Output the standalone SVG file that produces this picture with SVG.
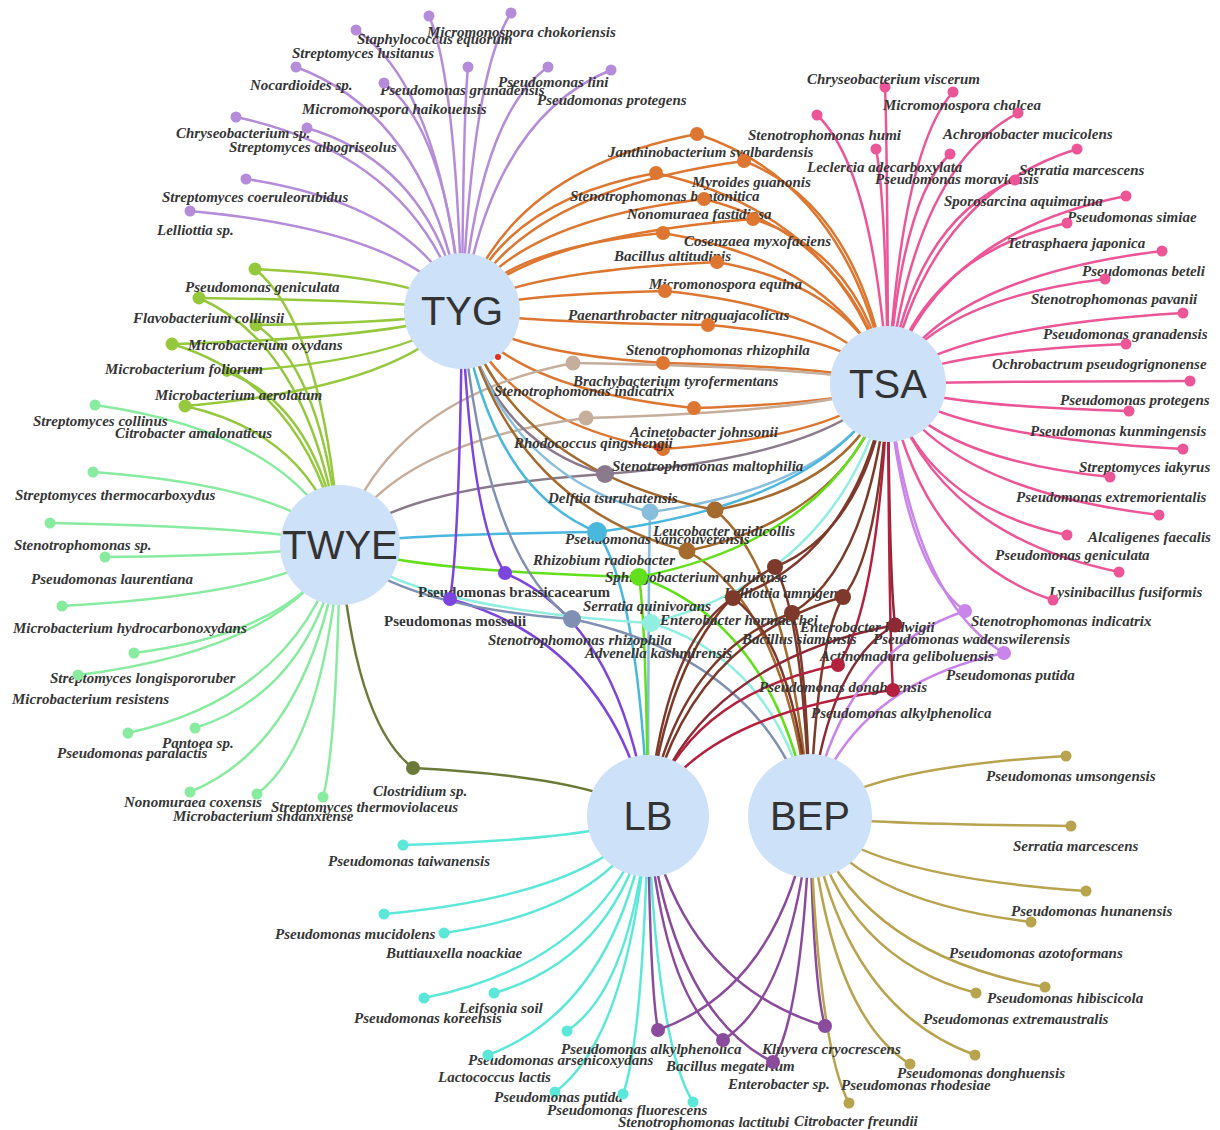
<svg xmlns="http://www.w3.org/2000/svg" width="1220" height="1130" viewBox="0 0 1220 1130">
<style>
.pu{stroke:#b48cd9;fill:#b48cd9}.pk{stroke:#ec5697;fill:#ec5697}.or{stroke:#dc7631;fill:#dc7631}
.yg{stroke:#96c83e;fill:#96c83e}.mi{stroke:#88eba0;fill:#88eba0}.cy{stroke:#5ce8d8;fill:#5ce8d8}
.dp{stroke:#8b4b9d;fill:#8b4b9d}.ol{stroke:#b8a34e;fill:#b8a34e}.cl{stroke:#6b7a38;fill:#6b7a38}
.tn{stroke:#c6ae9c;fill:#c6ae9c}.gp{stroke:#8a7a8c;fill:#8a7a8c}.lb{stroke:#86bedb;fill:#86bedb}
.br{stroke:#a56a2e;fill:#a56a2e}.bl{stroke:#4ab7dd;fill:#4ab7dd}.vp{stroke:#7c45de;fill:#7c45de}
.gr{stroke:#62e01c;fill:#62e01c}.gb{stroke:#8090b2;fill:#8090b2}.pc{stroke:#93eee2;fill:#93eee2}
.db{stroke:#7d3a2b;fill:#7d3a2b}.dr{stroke:#8e2a36;fill:#8e2a36}.cr{stroke:#b3213f;fill:#b3213f}
.vi{stroke:#c985ea;fill:#c985ea}.rd{stroke:#e0301a;fill:#e0301a}
path.e{fill:none;stroke-width:2.5}
circle.d{stroke:none}
.t{font-family:"Liberation Serif","Times New Roman",serif;font-weight:bold;font-style:italic;font-size:15px;fill:#363636}
.u{font-style:normal}
.h{fill:#cde1f8}
.hl{font-family:"Liberation Sans",Arial,sans-serif;font-size:40px;fill:#333;text-anchor:middle}
</style>
<rect width="1220" height="1130" fill="#fff"/>
<g id="edges">
<!-- TYG only -->
<path class="e pu" d="M462 311Q440.8 86.2 356 30"/>
<path class="e pu" d="M462 311Q455.4 75 429 16"/>
<path class="e pu" d="M462 311Q471.8 72.6 511 13"/>
<path class="e pu" d="M462 311Q463.2 115.8 468 67"/>
<path class="e pu" d="M462 311Q428.8 115.8 296 67"/>
<path class="e pu" d="M462 311Q446.4 128.6 384 83"/>
<path class="e pu" d="M462 311Q479.2 115.8 548 67"/>
<path class="e pu" d="M462 311Q491.8 118.2 611 70"/>
<path class="e pu" d="M462 311Q416.8 155.8 236 117"/>
<path class="e pu" d="M462 311Q431 164.6 307 128"/>
<path class="e pu" d="M462 311Q418.8 205.4 246 179"/>
<path class="e pu" d="M462 311Q407.6 231 190 211"/>
<!-- TYG + TSA -->
<path class="e or" d="M462 311Q509 169.4 697 134"/><path class="e or" d="M888 384Q849.8 184 697 134"/>
<path class="e or" d="M462 311Q518.4 191 744 161"/><path class="e or" d="M888 384Q859.2 205.6 744 161"/>
<path class="e or" d="M462 311Q500.8 200.6 656 173"/><path class="e or" d="M888 384Q841.6 215.2 656 173"/>
<path class="e or" d="M462 311Q510.4 221.4 704 199"/><path class="e or" d="M888 384Q851.2 236 704 199"/>
<path class="e or" d="M462 311Q520.2 237.4 753 219"/><path class="e or" d="M888 384Q861 252 753 219"/>
<path class="e or" d="M462 311Q502.2 248.6 663 233"/><path class="e or" d="M888 384Q843 263.2 663 233"/>
<path class="e or" d="M462 311Q513 271.8 717 262"/><path class="e or" d="M888 384Q853.8 286.4 717 262"/>
<path class="e or" d="M462 311Q502.6 295 665 291"/><path class="e or" d="M888 384Q843.4 309.6 665 291"/>
<path class="e or" d="M462 311Q511.2 322.2 708 325"/><path class="e or" d="M888 384Q852 336.8 708 325"/>
<path class="e or" d="M462 311Q502.2 352.6 663 363"/><path class="e or" d="M888 384Q843 367.2 663 363"/>
<path class="e or" d="M462 311Q508.4 388.6 694 408"/><path class="e or" d="M888 384Q849.2 403.2 694 408"/>
<path class="e or" d="M462 311Q502.2 421.4 663 449"/><path class="e or" d="M888 384Q843 436 663 449"/>
<!-- TSA only -->
<path class="e pk" d="M888 384Q887.4 146.4 885 87"/>
<path class="e pk" d="M888 384Q901 150.4 953 92"/>
<path class="e pk" d="M888 384Q873.8 168.8 817 115"/>
<path class="e pk" d="M888 384Q914 167.2 1018 113"/>
<path class="e pk" d="M888 384Q885.6 196 876 149"/>
<path class="e pk" d="M888 384Q900.4 200 950 154"/>
<path class="e pk" d="M888 384Q925.8 196 1077 149"/>
<path class="e pk" d="M888 384Q913.4 220.8 1015 180"/>
<path class="e pk" d="M888 384Q935.6 233.6 1126 196"/>
<path class="e pk" d="M888 384Q923.8 255.2 1067 223"/>
<path class="e pk" d="M888 384Q942.8 277.6 1162 251"/>
<path class="e pk" d="M888 384Q931.4 300 1105 279"/>
<path class="e pk" d="M888 384Q947 327.2 1183 313"/>
<path class="e pk" d="M888 384Q935.6 352 1126 344"/>
<path class="e pk" d="M888 384Q948.4 381.6 1190 381"/>
<path class="e pk" d="M888 384Q936.2 405.6 1129 411"/>
<path class="e pk" d="M888 384Q947 436 1183 449"/>
<path class="e pk" d="M888 384Q932.4 458.4 1110 477"/>
<path class="e pk" d="M888 384Q942.2 488.8 1159 515"/>
<path class="e pk" d="M888 384Q923.8 504.8 1067 535"/>
<path class="e pk" d="M888 384Q934.2 534.4 1119 572"/>
<path class="e pk" d="M888 384Q921 556.8 1053 600"/>
<!-- TYG + TWYE -->
<path class="e yg" d="M462 311Q420.6 277.4 255 269"/><path class="e yg" d="M340 545Q323 324.2 255 269"/>
<path class="e yg" d="M462 311Q409.4 300.6 199 298"/><path class="e yg" d="M340 545Q311.8 347.4 199 298"/>
<path class="e yg" d="M462 311Q420.8 322.2 256 325"/><path class="e yg" d="M340 545Q323.2 369 256 325"/>
<path class="e yg" d="M462 311Q404 337.4 172 344"/><path class="e yg" d="M340 545Q306.4 384.2 172 344"/>
<path class="e yg" d="M462 311Q415 359.8 227 372"/><path class="e yg" d="M340 545Q317.4 406.6 227 372"/>
<path class="e yg" d="M462 311Q406.6 387 185 406"/><path class="e yg" d="M340 545Q309 433.8 185 406"/>
<!-- TWYE only -->
<path class="e mi" d="M340 545Q291 433 95 405"/>
<path class="e mi" d="M340 545Q290.6 486.6 93 472"/>
<path class="e mi" d="M340 545Q282 527.4 50 523"/>
<path class="e mi" d="M340 545Q293 554.6 105 557"/>
<path class="e mi" d="M340 545Q284.4 593.8 62 606"/>
<path class="e mi" d="M340 545Q298.8 631.4 134 653"/>
<path class="e mi" d="M340 545Q287.6 649 78 675"/>
<path class="e mi" d="M340 545Q297.6 695.4 128 733"/>
<path class="e mi" d="M340 545Q311 691.4 195 728"/>
<path class="e mi" d="M340 545Q310 742.6 190 792"/>
<path class="e mi" d="M340 545Q323.4 744.2 257 794"/>
<path class="e mi" d="M340 545Q336.6 746.6 323 797"/>
<!-- TWYE + LB -->
<path class="e cl" d="M340 545Q354.6 723.4 413 768"/><path class="e cl" d="M648 816Q601 777.6 413 768"/>
<!-- LB only -->
<path class="e cy" d="M648 816Q599 839.2 403 845"/>
<path class="e cy" d="M648 816Q595.2 894.4 384 914"/>
<path class="e cy" d="M648 816Q607.2 909.6 444 933"/>
<path class="e cy" d="M648 816Q603.2 961.6 424 998"/>
<path class="e cy" d="M648 816Q617.2 957.6 494 993"/>
<path class="e cy" d="M648 816Q631.8 988 567 1031"/>
<path class="e cy" d="M648 816Q616 1007.2 488 1055"/>
<path class="e cy" d="M648 816Q629.4 1036.8 555 1092"/>
<path class="e cy" d="M648 816Q643 1038.4 623 1094"/>
<path class="e cy" d="M648 816Q657 1044.8 693 1102"/>
<!-- LB + BEP -->
<path class="e dp" d="M648 816Q650 987.2 658 1030"/><path class="e dp" d="M810 816Q779.6 987.2 658 1030"/>
<path class="e dp" d="M648 816Q663 995.2 723 1040"/><path class="e dp" d="M810 816Q792.6 995.2 723 1040"/>
<path class="e dp" d="M648 816Q673 1012.8 773 1062"/><path class="e dp" d="M810 816Q802.6 1012.8 773 1062"/>
<path class="e dp" d="M648 816Q683.4 984 825 1026"/><path class="e dp" d="M810 816Q813 984 825 1026"/>
<!-- BEP only -->
<path class="e ol" d="M810 816Q861.2 768 1066 756"/>
<path class="e ol" d="M810 816Q862.2 824 1071 826"/>
<path class="e ol" d="M810 816Q865.2 876 1086 891"/>
<path class="e ol" d="M810 816Q854.2 900.8 1031 922"/>
<path class="e ol" d="M810 816Q857 952.8 1045 987"/>
<path class="e ol" d="M810 816Q843.2 957.6 976 993"/>
<path class="e ol" d="M810 816Q843 1007.2 975 1055"/>
<path class="e ol" d="M810 816Q830 1014.4 910 1064"/>
<path class="e ol" d="M810 816Q817.8 1045.6 849 1103"/>
<!-- multi-hub -->
<path class="e tn" d="M340 545Q386.6 399.4 573 363"/><path class="e tn" d="M888 384Q825 367.2 573 363"/>
<path class="e tn" d="M340 545Q389.2 443.4 586 418"/><path class="e tn" d="M888 384Q827.6 411.2 586 418"/>
<path class="e gp" d="M340 545Q393 488.2 605 474"/><path class="e gp" d="M888 384Q831.4 456 605 474"/><path class="e gp" d="M462 311Q490.6 441.4 605 474"/>
<path class="e lb" d="M462 311Q499.6 471.8 650 512"/><path class="e lb" d="M888 384Q840.4 486.4 650 512"/><path class="e lb" d="M648 816Q648.4 572.8 650 512"/>
<path class="e br" d="M462 311Q512.6 470.2 715 510"/><path class="e br" d="M888 384Q853.4 484.8 715 510"/><path class="e br" d="M810 816Q791 571.2 715 510"/>
<path class="e bl" d="M462 311Q489 487.8 597 532"/><path class="e bl" d="M340 545Q391.4 534.6 597 532"/><path class="e bl" d="M888 384Q829.8 502.4 597 532"/><path class="e bl" d="M648 816Q637.8 588.8 597 532"/>
<path class="e br" d="M462 311Q507 503 687 551"/><path class="e br" d="M888 384Q847.8 517.6 687 551"/><path class="e br" d="M810 816Q785.4 604 687 551"/>
<path class="e vp" d="M462 311Q470.6 520.6 505 573"/><path class="e vp" d="M648 816Q619.4 621.6 505 573"/>
<path class="e gr" d="M340 545Q399.8 570.6 639 577"/><path class="e gr" d="M888 384Q838.2 538.4 639 577"/><path class="e gr" d="M648 816Q646.2 624.8 639 577"/><path class="e gr" d="M810 816Q775.8 624.8 639 577"/>
<path class="e vp" d="M462 311Q459.6 541.4 450 599"/><path class="e vp" d="M648 816Q608.4 642.4 450 599"/>
<path class="e gb" d="M462 311Q484 557.4 572 619"/><path class="e gb" d="M340 545Q386.4 604.2 572 619"/><path class="e gb" d="M810 816Q762.4 658.4 572 619"/>
<path class="e pc" d="M340 545Q402.2 607.4 651 623"/><path class="e pc" d="M888 384Q840.6 575.2 651 623"/><path class="e pc" d="M810 816Q778.2 661.6 651 623"/>
<path class="e db" d="M888 384Q865.4 530.4 775 567"/><path class="e db" d="M648 816Q673.4 616.8 775 567"/><path class="e db" d="M810 816Q803 616.8 775 567"/>
<path class="e db" d="M888 384Q857 555.2 733 598"/><path class="e db" d="M648 816Q665 641.6 733 598"/><path class="e db" d="M810 816Q794.6 641.6 733 598"/>
<path class="e db" d="M888 384Q879 554.4 843 597"/><path class="e db" d="M648 816Q687 640.8 843 597"/><path class="e db" d="M810 816Q816.6 640.8 843 597"/>
<path class="e db" d="M888 384Q868.8 567.2 792 613"/><path class="e db" d="M648 816Q676.8 653.6 792 613"/><path class="e db" d="M810 816Q806.4 653.6 792 613"/>
<path class="e dr" d="M888 384Q889.4 576.8 895 625"/><path class="e dr" d="M648 816Q697.4 663.2 895 625"/><path class="e dr" d="M810 816Q827 663.2 895 625"/>
<path class="e cr" d="M888 384Q878 608.8 838 665"/><path class="e cr" d="M648 816Q686 695.2 838 665"/>
<path class="e cr" d="M888 384Q889 628.8 893 690"/><path class="e cr" d="M648 816Q697 715.2 893 690"/>
<path class="e vi" d="M888 384Q903.4 565.6 965 611"/><path class="e vi" d="M810 816Q841 652 965 611"/>
<path class="e vi" d="M888 384Q911.2 599.2 1004 653"/><path class="e vi" d="M810 816Q848.8 685.6 1004 653"/>
</g>
<g id="hubs">
<g id="n-TYG"><circle class="h" cx="462" cy="311" r="58"/><text class="hl" x="462" y="325">TYG</text></g>
<g id="n-TSA"><circle class="h" cx="888" cy="384" r="58"/><text class="hl" x="888" y="398">TSA</text></g>
<g id="n-TWYE"><circle class="h" cx="340" cy="545" r="60"/><text class="hl" x="340" y="559">TWYE</text></g>
<g id="n-LB"><circle class="h" cx="648" cy="816" r="61"/><text class="hl" x="648" y="830">LB</text></g>
<g id="n-BEP"><circle class="h" cx="810" cy="816" r="62"/><text class="hl" x="810" y="830">BEP</text></g>
</g>
<g id="tyg-nodes">
<g id="tyg-01"><circle class="d pu" cx="511" cy="13" r="5.5"/><text class="t" x="427" y="37">Micromonospora chokoriensis</text></g>
<g id="tyg-02"><circle class="d pu" cx="429" cy="16" r="5.5"/><text class="t" x="357" y="44">Staphylococcus equorum</text></g>
<g id="tyg-03"><circle class="d pu" cx="356" cy="30" r="5.5"/><text class="t" x="292" y="58">Streptomyces lusitanus</text></g>
<g id="tyg-04"><circle class="d pu" cx="296" cy="67" r="5.5"/><text class="t" x="250" y="90">Nocardioides sp.</text></g>
<g id="tyg-05"><circle class="d pu" cx="468" cy="67" r="5.5"/><text class="t" x="380" y="95">Pseudomonas granadensis</text></g>
<g id="tyg-06"><circle class="d pu" cx="548" cy="67" r="5.5"/><text class="t" x="498" y="87">Pseudomonas lini</text></g>
<g id="tyg-07"><circle class="d pu" cx="611" cy="70" r="5.5"/><text class="t" x="537" y="105">Pseudomonas protegens</text></g>
<g id="tyg-08"><circle class="d pu" cx="384" cy="83" r="5.5"/><text class="t" x="302" y="114">Micromonospora haikouensis</text></g>
<g id="tyg-09"><circle class="d pu" cx="236" cy="117" r="5.5"/><text class="t" x="176" y="138">Chryseobacterium sp.</text></g>
<g id="tyg-10"><circle class="d pu" cx="307" cy="128" r="5.5"/><text class="t" x="229" y="152">Streptomyces albogriseolus</text></g>
<g id="tyg-11"><circle class="d pu" cx="246" cy="179" r="5.5"/><text class="t" x="162" y="202">Streptomyces coeruleorubidus</text></g>
<g id="tyg-12"><circle class="d pu" cx="190" cy="211" r="5.5"/><text class="t" x="157" y="235">Lelliottia sp.</text></g>
</g>
<g id="tyg-tsa-nodes">
<g id="ts-01"><circle class="d or" cx="697" cy="134" r="7"/><text class="t" x="608" y="157">Janthinobacterium svalbardensis</text></g>
<g id="ts-02"><circle class="d or" cx="744" cy="161" r="7"/><text class="t" x="692" y="187">Myroides guanonis</text></g>
<g id="ts-03"><circle class="d or" cx="656" cy="173" r="7"/><text class="t" x="570" y="201">Stenotrophomonas bentonitica</text></g>
<g id="ts-04"><circle class="d or" cx="704" cy="199" r="7"/><text class="t" x="627" y="219">Nonomuraea fastidiosa</text></g>
<g id="ts-05"><circle class="d or" cx="753" cy="219" r="7"/><text class="t" x="684" y="246">Cosenzaea myxofaciens</text></g>
<g id="ts-06"><circle class="d or" cx="663" cy="233" r="7"/><text class="t" x="614" y="261">Bacillus altitudinis</text></g>
<g id="ts-07"><circle class="d or" cx="717" cy="262" r="7"/><text class="t" x="649" y="289">Micromonospora equina</text></g>
<g id="ts-08"><circle class="d or" cx="665" cy="291" r="7"/><text class="t" x="568" y="320">Paenarthrobacter nitroguajacolicus</text></g>
<g id="ts-09"><circle class="d or" cx="708" cy="325" r="7"/><text class="t" x="626" y="355">Stenotrophomonas rhizophila</text></g>
<g id="ts-10"><circle class="d or" cx="663" cy="363" r="7"/><text class="t" x="573" y="386">Brachybacterium tyrofermentans</text></g>
<g id="ts-11"><circle class="d or" cx="694" cy="408" r="7"/><text class="t" x="630" y="437">Acinetobacter johnsonii</text></g>
<g id="ts-12"><circle class="d or" cx="663" cy="449" r="7"/></g>
<g id="red-1"><circle class="d rd" cx="498" cy="357" r="3"/></g>
<g id="red-2"><circle class="d rd" cx="657" cy="447" r="3.5"/></g>
</g>
<g id="tsa-nodes">
<g id="tsa-01"><circle class="d pk" cx="885" cy="87" r="5.5"/><text class="t" x="807" y="84">Chryseobacterium viscerum</text></g>
<g id="tsa-02"><circle class="d pk" cx="953" cy="92" r="5.5"/><text class="t" x="883" y="110">Micromonospora chalcea</text></g>
<g id="tsa-03"><circle class="d pk" cx="817" cy="115" r="5.5"/><text class="t" x="748" y="140">Stenotrophomonas humi</text></g>
<g id="tsa-04"><circle class="d pk" cx="1018" cy="113" r="5.5"/><text class="t" x="943" y="139">Achromobacter mucicolens</text></g>
<g id="tsa-05"><circle class="d pk" cx="876" cy="149" r="5.5"/><text class="t" x="807" y="172">Leclercia adecarboxylata</text></g>
<g id="tsa-06"><circle class="d pk" cx="950" cy="154" r="5.5"/><text class="t" x="875" y="184">Pseudomonas moraviensis</text></g>
<g id="tsa-07"><circle class="d pk" cx="1077" cy="149" r="5.5"/><text class="t" x="1019" y="175">Serratia marcescens</text></g>
<g id="tsa-08"><circle class="d pk" cx="1015" cy="180" r="5.5"/><text class="t" x="944" y="206">Sporosarcina aquimarina</text></g>
<g id="tsa-09"><circle class="d pk" cx="1126" cy="196" r="5.5"/><text class="t" x="1067" y="222">Pseudomonas simiae</text></g>
<g id="tsa-10"><circle class="d pk" cx="1067" cy="223" r="5.5"/><text class="t" x="1007" y="248">Tetrasphaera japonica</text></g>
<g id="tsa-11"><circle class="d pk" cx="1162" cy="251" r="5.5"/><text class="t" x="1082" y="276">Pseudomonas beteli</text></g>
<g id="tsa-12"><circle class="d pk" cx="1105" cy="279" r="5.5"/><text class="t" x="1031" y="304">Stenotrophomonas pavanii</text></g>
<g id="tsa-13"><circle class="d pk" cx="1183" cy="313" r="5.5"/><text class="t" x="1043" y="339">Pseudomonas granadensis</text></g>
<g id="tsa-14"><circle class="d pk" cx="1126" cy="344" r="5.5"/><text class="t" x="992" y="369">Ochrobactrum pseudogrignonense</text></g>
<g id="tsa-15"><circle class="d pk" cx="1190" cy="381" r="5.5"/><text class="t" x="1060" y="405">Pseudomonas protegens</text></g>
<g id="tsa-16"><circle class="d pk" cx="1129" cy="411" r="5.5"/><text class="t" x="1030" y="436">Pseudomonas kunmingensis</text></g>
<g id="tsa-17"><circle class="d pk" cx="1183" cy="449" r="5.5"/><text class="t" x="1079" y="472">Streptomyces iakyrus</text></g>
<g id="tsa-18"><circle class="d pk" cx="1110" cy="477" r="5.5"/><text class="t" x="1016" y="502">Pseudomonas extremorientalis</text></g>
<g id="tsa-19"><circle class="d pk" cx="1159" cy="515" r="5.5"/><text class="t" x="1088" y="542">Alcaligenes faecalis</text></g>
<g id="tsa-20"><circle class="d pk" cx="1067" cy="535" r="5.5"/><text class="t" x="995" y="560">Pseudomonas geniculata</text></g>
<g id="tsa-21"><circle class="d pk" cx="1119" cy="572" r="5.5"/><text class="t" x="1049" y="597">Lysinibacillus fusiformis</text></g>
<g id="tsa-22"><circle class="d pk" cx="1053" cy="600" r="5.5"/><text class="t" x="971" y="626">Stenotrophomonas indicatrix</text></g>
</g>
<g id="tyg-twye-nodes">
<g id="tt-1"><circle class="d yg" cx="255" cy="269" r="6.5"/></g>
<g id="tt-2"><circle class="d yg" cx="199" cy="298" r="6.5"/><text class="t" x="185" y="292">Pseudomonas geniculata</text></g>
<g id="tt-3"><circle class="d yg" cx="256" cy="325" r="6.5"/><text class="t" x="133" y="323">Flavobacterium collinsii</text></g>
<g id="tt-4"><circle class="d yg" cx="172" cy="344" r="6.5"/><text class="t" x="188" y="350">Microbacterium oxydans</text></g>
<g id="tt-5"><circle class="d yg" cx="227" cy="372" r="5"/><text class="t" x="105" y="374">Microbacterium foliorum</text></g>
<g id="tt-6"><circle class="d yg" cx="185" cy="406" r="6.5"/><text class="t" x="155" y="400">Microbacterium aerolatum</text></g>
</g>
<g id="twye-nodes">
<g id="tw-01"><circle class="d mi" cx="95" cy="405" r="5.5"/><text class="t" x="33" y="426">Streptomyces collinus</text></g>
<g id="tw-02"><text class="t" x="115" y="438">Citrobacter amalonaticus</text></g>
<g id="tw-03"><circle class="d mi" cx="93" cy="472" r="5.5"/><text class="t" x="15" y="500">Streptomyces thermocarboxydus</text></g>
<g id="tw-04"><circle class="d mi" cx="50" cy="523" r="5.5"/><text class="t" x="14" y="550">Stenotrophomonas sp.</text></g>
<g id="tw-05"><circle class="d mi" cx="105" cy="557" r="5.5"/><text class="t" x="31" y="584">Pseudomonas laurentiana</text></g>
<g id="tw-06"><circle class="d mi" cx="62" cy="606" r="5.5"/><text class="t" x="13" y="633">Microbacterium hydrocarbonoxydans</text></g>
<g id="tw-07"><circle class="d mi" cx="134" cy="653" r="5.5"/><text class="t" x="50" y="683">Streptomyces longispororuber</text></g>
<g id="tw-08"><circle class="d mi" cx="78" cy="675" r="5.5"/><text class="t" x="12" y="704">Microbacterium resistens</text></g>
<g id="tw-09"><circle class="d mi" cx="195" cy="728" r="5.5"/><text class="t" x="162" y="748">Pantoea sp.</text></g>
<g id="tw-10"><circle class="d mi" cx="128" cy="733" r="5.5"/><text class="t" x="57" y="758">Pseudomonas paralactis</text></g>
<g id="tw-11"><circle class="d mi" cx="190" cy="792" r="5.5"/><text class="t" x="124" y="807">Nonomuraea coxensis</text></g>
<g id="tw-12"><circle class="d mi" cx="323" cy="797" r="5.5"/><text class="t" x="271" y="812">Streptomyces thermoviolaceus</text></g>
<g id="tw-13"><circle class="d mi" cx="257" cy="794" r="5.5"/><text class="t" x="173" y="821">Microbacterium shaanxiense</text></g>
<g id="twlb-1"><circle class="d cl" cx="413" cy="768" r="7"/><text class="t" x="373" y="796">Clostridium sp.</text></g>
</g>
<g id="center-nodes">
<g id="c-tn1"><circle class="d tn" cx="573" cy="363" r="7.5"/><text class="t" x="494" y="396">Stenotrophomonas indicatrix</text></g>
<g id="c-tn2"><circle class="d tn" cx="586" cy="418" r="7.5"/><text class="t" x="514" y="448">Rhodococcus qingshengii</text></g>
<g id="c-gp"><circle class="d gp" cx="605" cy="474" r="9"/><text class="t" x="548" y="503">Delftia tsuruhatensis</text></g>
<g id="c-smal"><text class="t" x="612" y="471">Stenotrophomonas maltophilia</text></g>
<g id="c-lb"><circle class="d lb" cx="650" cy="512" r="8.5"/><text class="t" x="565" y="544">Pseudomonas vancouverensis</text></g>
<g id="c-br1"><circle class="d br" cx="715" cy="510" r="8.5"/><text class="t" x="653" y="536">Leucobacter aridicollis</text></g>
<g id="c-bl"><circle class="d bl" cx="597" cy="532" r="10"/><text class="t" x="533" y="565">Rhizobium radiobacter</text></g>
<g id="c-br2"><circle class="d br" cx="687" cy="551" r="8.5"/><text class="t" x="605" y="582">Sphingobacterium anhuiense</text></g>
<g id="c-vp1"><circle class="d vp" cx="505" cy="573" r="7"/><text class="t u" x="418" y="597">Pseudomonas brassicacearum</text></g>
<g id="c-gr"><circle class="d gr" cx="639" cy="577" r="9"/><text class="t" x="583" y="611">Serratia quinivorans</text></g>
<g id="c-vp2"><circle class="d vp" cx="450" cy="599" r="7"/><text class="t u" x="384" y="626">Pseudomonas mosselii</text></g>
<g id="c-gb"><circle class="d gb" cx="572" cy="619" r="9"/><text class="t" x="488" y="645">Stenotrophomonas rhizophila</text></g>
<g id="c-pc"><circle class="d pc" cx="651" cy="623" r="9"/><text class="t" x="585" y="658">Advenella kashmirensis</text></g>
<g id="c-db1"><circle class="d db" cx="775" cy="567" r="8"/><text class="t" x="724" y="598">Lelliottia amnigena</text></g>
<g id="c-db2"><circle class="d db" cx="733" cy="598" r="8"/><text class="t" x="660" y="625">Enterobacter hormaechei</text></g>
<g id="c-db3"><circle class="d db" cx="843" cy="597" r="8"/><text class="t" x="800" y="632">Enterobacter ludwigii</text></g>
<g id="c-db4"><circle class="d db" cx="792" cy="613" r="8"/><text class="t" x="742" y="644">Bacillus siamensis</text></g>
<g id="c-dr"><circle class="d dr" cx="895" cy="625" r="7.5"/><text class="t" x="820" y="661">Actinomadura geliboluensis</text></g>
<g id="c-cr1"><circle class="d cr" cx="838" cy="665" r="7"/><text class="t" x="759" y="692">Pseudomonas donghuensis</text></g>
<g id="c-cr2"><circle class="d cr" cx="893" cy="690" r="7"/><text class="t" x="811" y="718">Pseudomonas alkylphenolica</text></g>
<g id="c-vi1"><circle class="d vi" cx="965" cy="611" r="7"/><text class="t" x="873" y="644">Pseudomonas wadenswilerensis</text></g>
<g id="c-vi2"><circle class="d vi" cx="1004" cy="653" r="7"/><text class="t" x="946" y="680">Pseudomonas putida</text></g>
</g>
<g id="lb-nodes">
<g id="lb-01"><circle class="d cy" cx="403" cy="845" r="5.5"/><text class="t" x="328" y="866">Pseudomonas taiwanensis</text></g>
<g id="lb-02"><circle class="d cy" cx="384" cy="914" r="5.5"/><text class="t" x="275" y="939">Pseudomonas mucidolens</text></g>
<g id="lb-03"><circle class="d cy" cx="444" cy="933" r="5.5"/><text class="t" x="386" y="958">Buttiauxella noackiae</text></g>
<g id="lb-04"><circle class="d cy" cx="494" cy="993" r="5.5"/><text class="t" x="459" y="1013">Leifsonia soil</text></g>
<g id="lb-05"><circle class="d cy" cx="424" cy="998" r="5.5"/><text class="t" x="354" y="1023">Pseudomonas koreensis</text></g>
<g id="lb-06"><circle class="d cy" cx="567" cy="1031" r="5.5"/><text class="t" x="468" y="1065">Pseudomonas arsenicoxydans</text></g>
<g id="lb-07"><circle class="d cy" cx="488" cy="1055" r="5.5"/><text class="t" x="438" y="1082">Lactococcus lactis</text></g>
<g id="lb-08"><circle class="d cy" cx="555" cy="1092" r="5.5"/><text class="t" x="494" y="1102">Pseudomonas putida</text></g>
<g id="lb-09"><circle class="d cy" cx="623" cy="1094" r="5.5"/><text class="t" x="547" y="1115">Pseudomonas fluorescens</text></g>
<g id="lb-10"><circle class="d cy" cx="693" cy="1102" r="5.5"/><text class="t" x="618" y="1127">Stenotrophomonas lactitubi</text></g>
</g>
<g id="lb-bep-nodes">
<g id="lbb-1"><circle class="d dp" cx="658" cy="1030" r="7"/><text class="t" x="561" y="1054">Pseudomonas alkylphenolica</text></g>
<g id="lbb-2"><circle class="d dp" cx="723" cy="1040" r="7"/><text class="t" x="666" y="1071">Bacillus megaterium</text></g>
<g id="lbb-3"><circle class="d dp" cx="773" cy="1062" r="7"/><text class="t" x="728" y="1089">Enterobacter sp.</text></g>
<g id="lbb-4"><circle class="d dp" cx="825" cy="1026" r="7"/><text class="t" x="762" y="1054">Kluyvera cryocrescens</text></g>
</g>
<g id="bep-nodes">
<g id="bep-1"><circle class="d ol" cx="1066" cy="756" r="5.5"/><text class="t" x="986" y="781">Pseudomonas umsongensis</text></g>
<g id="bep-2"><circle class="d ol" cx="1071" cy="826" r="5.5"/><text class="t" x="1013" y="851">Serratia marcescens</text></g>
<g id="bep-3"><circle class="d ol" cx="1086" cy="891" r="5.5"/><text class="t" x="1011" y="916">Pseudomonas hunanensis</text></g>
<g id="bep-4"><circle class="d ol" cx="1031" cy="922" r="5.5"/><text class="t" x="949" y="958">Pseudomonas azotoformans</text></g>
<g id="bep-5"><circle class="d ol" cx="1045" cy="987" r="5.5"/><text class="t" x="987" y="1003">Pseudomonas hibiscicola</text></g>
<g id="bep-6"><circle class="d ol" cx="976" cy="993" r="5.5"/><text class="t" x="923" y="1024">Pseudomonas extremaustralis</text></g>
<g id="bep-7"><circle class="d ol" cx="975" cy="1055" r="5.5"/><text class="t" x="897" y="1078">Pseudomonas donghuensis</text></g>
<g id="bep-8"><circle class="d ol" cx="910" cy="1064" r="5.5"/><text class="t" x="841" y="1090">Pseudomonas rhodesiae</text></g>
<g id="bep-9"><circle class="d ol" cx="849" cy="1103" r="5.5"/><text class="t" x="794" y="1126">Citrobacter freundii</text></g>
</g>
</svg>
